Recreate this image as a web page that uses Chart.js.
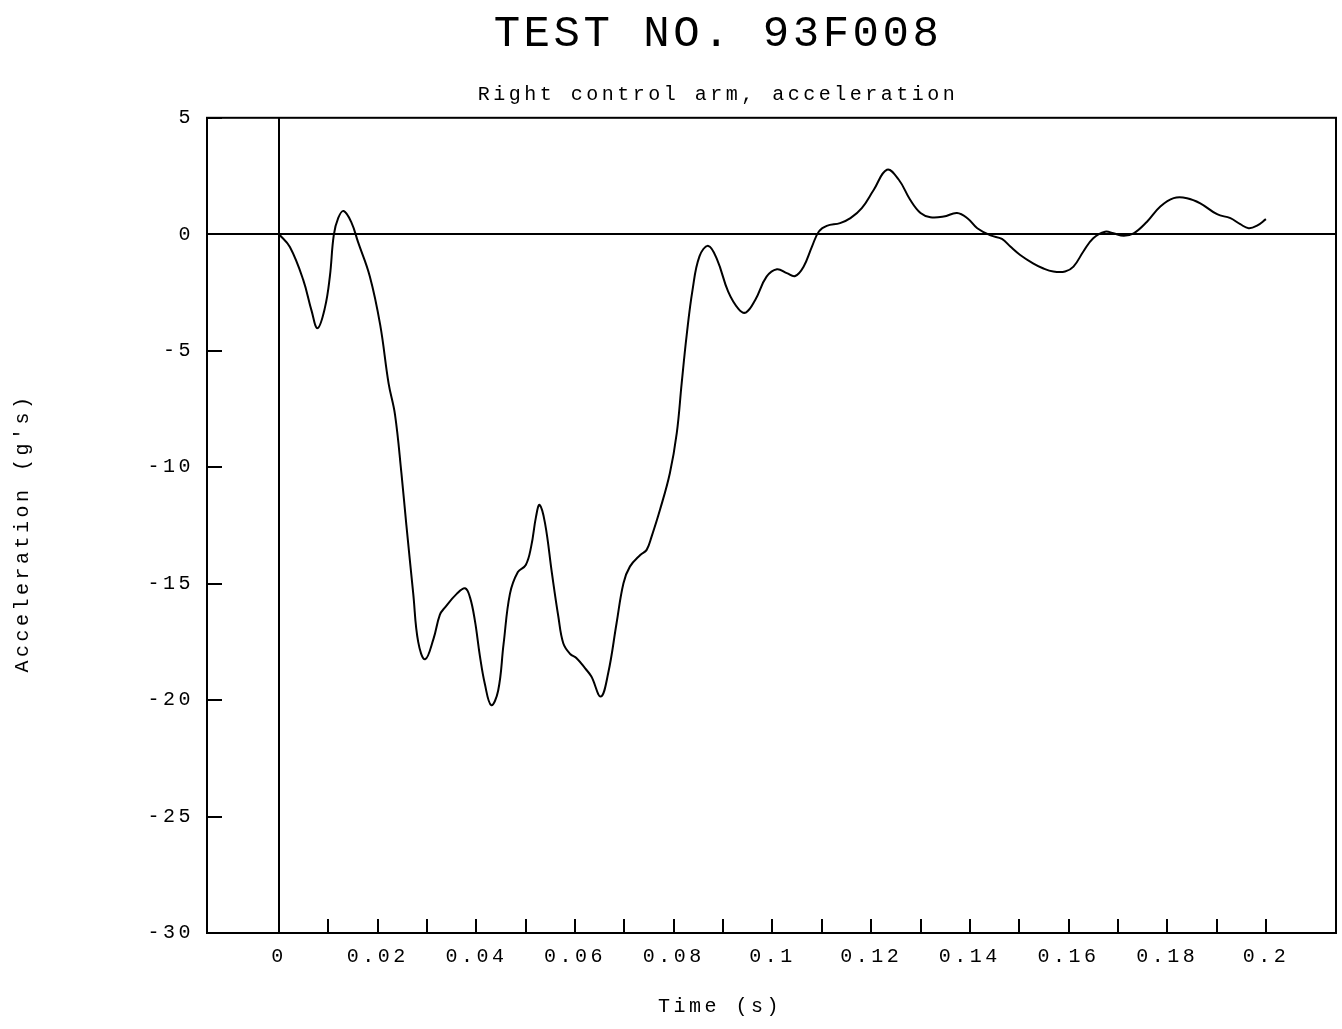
<!DOCTYPE html>
<html><head><meta charset="utf-8">
<script src="https://cdn.jsdelivr.net/npm/chart.js@4"></script>
<style>html,body{margin:0;padding:0;background:#fff}#wrap{width:1342px;height:1029px;position:relative}</style>
</head><body><div id="wrap"><canvas id="c"></canvas></div>
<script>
const chartTitle = 'TEST NO. 93F008';
const chartSubtitle = 'Right control arm, acceleration';
const xAxisTitle = 'Time (s)';
const yAxisTitle = "Acceleration (g's)";

const timeS = [0, 0.0022, 0.0049, 0.0066, 0.0078, 0.0093, 0.0103, 0.0111, 0.0120, 0.0131, 0.0147, 0.0160, 0.0184, 0.0205, 0.0222, 0.0235, 0.0248, 0.0258, 0.0272, 0.0282, 0.0296, 0.0313, 0.0326, 0.0336, 0.0360, 0.0377, 0.0387, 0.0397, 0.0407, 0.0417, 0.0430, 0.0444, 0.0455, 0.0468, 0.0484, 0.0500, 0.0511, 0.0521, 0.0528, 0.0539, 0.0553, 0.0566, 0.0576, 0.0590, 0.0603, 0.0620, 0.0633, 0.0652, 0.0667, 0.0684, 0.0698, 0.0711, 0.0732, 0.0745, 0.0755, 0.0772, 0.0792, 0.0806, 0.0816, 0.0826, 0.0838, 0.0852, 0.0870, 0.0888, 0.0910, 0.0931, 0.0946, 0.0965, 0.0988, 0.1009, 0.1029, 0.1046, 0.1063, 0.1080, 0.1094, 0.1110, 0.1137, 0.1158, 0.1181, 0.1205, 0.1232, 0.1256, 0.1279, 0.1300, 0.1320, 0.1347, 0.1374, 0.1395, 0.1415, 0.1442, 0.1465, 0.1482, 0.1502, 0.1528, 0.1548, 0.1569, 0.1593, 0.1610, 0.1630, 0.1650, 0.1674, 0.1691, 0.1712, 0.1732, 0.1759, 0.1786, 0.1813, 0.1840, 0.1867, 0.1901, 0.1928, 0.1948, 0.1965, 0.1982, 0.2000];
const accelG = [0, -0.55, -1.96, -3.29, -4.03, -3.15, -1.81, -0.03, 0.70, 1.0, 0.49, -0.33, -1.81, -3.89, -6.4, -7.74, -10.26, -12.48, -15.44, -17.5, -18.25, -17.37, -16.33, -16.03, -15.44, -15.2, -15.59, -16.6, -18.1, -19.3, -20.22, -19.6, -17.6, -15.43, -14.5, -14.2, -13.4, -12.1, -11.62, -12.4, -14.55, -16.41, -17.56, -18.02, -18.2, -18.63, -18.99, -19.85, -18.85, -16.7, -14.98, -14.27, -13.77, -13.55, -12.98, -11.83, -10.26, -8.54, -6.39, -4.35, -2.39, -0.95, -0.5, -1.1, -2.45, -3.2, -3.36, -2.82, -1.82, -1.5, -1.67, -1.79, -1.39, -0.53, 0.12, 0.36, 0.48, 0.69, 1.12, 1.9, 2.77, 2.34, 1.48, 0.91, 0.73, 0.76, 0.91, 0.69, 0.26, -0.05, -0.2, -0.53, -0.89, -1.25, -1.46, -1.6, -1.6, -1.39, -0.74, -0.17, 0.11, 0.04, -0.06, 0.04, 0.54, 1.19, 1.55, 1.55, 1.33, 0.86, 0.69, 0.43, 0.26, 0.37, 0.65];

const xTickValues = [0, 0.01, 0.02, 0.03, 0.04, 0.05, 0.06, 0.07, 0.08, 0.09, 0.1, 0.11, 0.12, 0.13, 0.14, 0.15, 0.16, 0.17, 0.18, 0.19, 0.2];
const xTickLabels = ['0', '', '0.02', '', '0.04', '', '0.06', '', '0.08', '', '0.1', '', '0.12', '', '0.14', '', '0.16', '', '0.18', '', '0.2'];
const yTickValues = [-30, -25, -20, -15, -10, -5, 0, 5];
const yTickLabels = ['-30', '-25', '-20', '-15', '-10', '-5', '0', '5'];

const FONT = "'Liberation Mono', 'DejaVu Sans Mono', monospace";
const SPACING = '3.5px';

const framePlugin = {
  id: 'frame',
  beforeUpdate(chart) { chart.ctx.letterSpacing = SPACING; },
  beforeDraw(chart) { chart.ctx.letterSpacing = SPACING; },
  afterDraw(chart) {
    const ctx = chart.ctx, a = chart.chartArea;
    const xs = chart.scales.x, ys = chart.scales.y;
    ctx.save();
    ctx.strokeStyle = '#000';
    ctx.lineWidth = 2;
    ctx.strokeRect(a.left, a.top, a.right - a.left, a.bottom - a.top);
    ctx.beginPath();
    xTickValues.forEach(v => {
      const p = Math.round(xs.getPixelForValue(v));
      ctx.moveTo(p, a.bottom); ctx.lineTo(p, a.bottom - 14);
    });
    yTickValues.forEach(v => {
      const p = Math.round(ys.getPixelForValue(v));
      ctx.moveTo(a.left, p); ctx.lineTo(a.left + 15, p);
    });
    ctx.stroke();
    ctx.fillStyle = '#000';
    ctx.font = '20px ' + FONT;
    ctx.letterSpacing = SPACING;
    ctx.textAlign = 'center';
    ctx.textBaseline = 'middle';
    ctx.fillText(xAxisTitle, 720, 1007);
    ctx.translate(23, 533);
    ctx.rotate(-Math.PI / 2);
    ctx.fillText(yAxisTitle, 0, 0);
    ctx.restore();
  }
};

new Chart(document.getElementById('c'), {
  type: 'line',
  data: {
    datasets: [{
      data: timeS.map((t, i) => ({ x: t, y: accelG[i] })),
      borderColor: '#000',
      borderWidth: 2,
      pointRadius: 0,
      tension: 0.4,
      fill: false
    }]
  },
  options: {
    animation: false,
    responsive: true,
    maintainAspectRatio: false,
    devicePixelRatio: 1,
    layout: { padding: { top: 8, left: 100, right: 6, bottom: 0 } },
    plugins: {
      legend: { display: false },
      tooltip: { enabled: false },
      title: {
        display: true, text: chartTitle, color: '#000',
        font: { family: FONT, size: 44, weight: 'normal', lineHeight: 1.2 },
        padding: { top: 0, bottom: 22 }
      },
      subtitle: {
        display: true, text: chartSubtitle, color: '#000',
        font: { family: FONT, size: 20, weight: 'normal', lineHeight: 1.2 },
        padding: { top: 0, bottom: 11 }
      }
    },
    scales: {
      x: {
        type: 'linear', min: -0.0146, max: 0.2142,
        afterBuildTicks: s => { s.ticks = xTickValues.map(v => ({ value: v })); },
        afterFit: s => { s.height = 96; },
        ticks: {
          autoSkip: false, maxRotation: 0, color: '#000', padding: 12,
          font: { family: FONT, size: 20 },
          callback: (v, i) => xTickLabels[i]
        },
        grid: {
          drawTicks: false, lineWidth: 2,
          color: c => (c.tick && c.tick.value === 0) ? '#000' : 'rgba(0,0,0,0)'
        },
        border: { display: false }
      },
      y: {
        type: 'linear', min: -30, max: 5,
        afterBuildTicks: s => { s.ticks = yTickValues.map(v => ({ value: v })); },
        afterFit: s => { s.width = 107; },
        ticks: {
          color: '#000', padding: 13,
          font: { family: FONT, size: 20 },
          callback: (v, i) => yTickLabels[i]
        },
        grid: {
          drawTicks: false, lineWidth: 2,
          color: c => (c.tick && c.tick.value === 0) ? '#000' : 'rgba(0,0,0,0)'
        },
        border: { display: false }
      }
    }
  },
  plugins: [framePlugin]
});
</script></body></html>
